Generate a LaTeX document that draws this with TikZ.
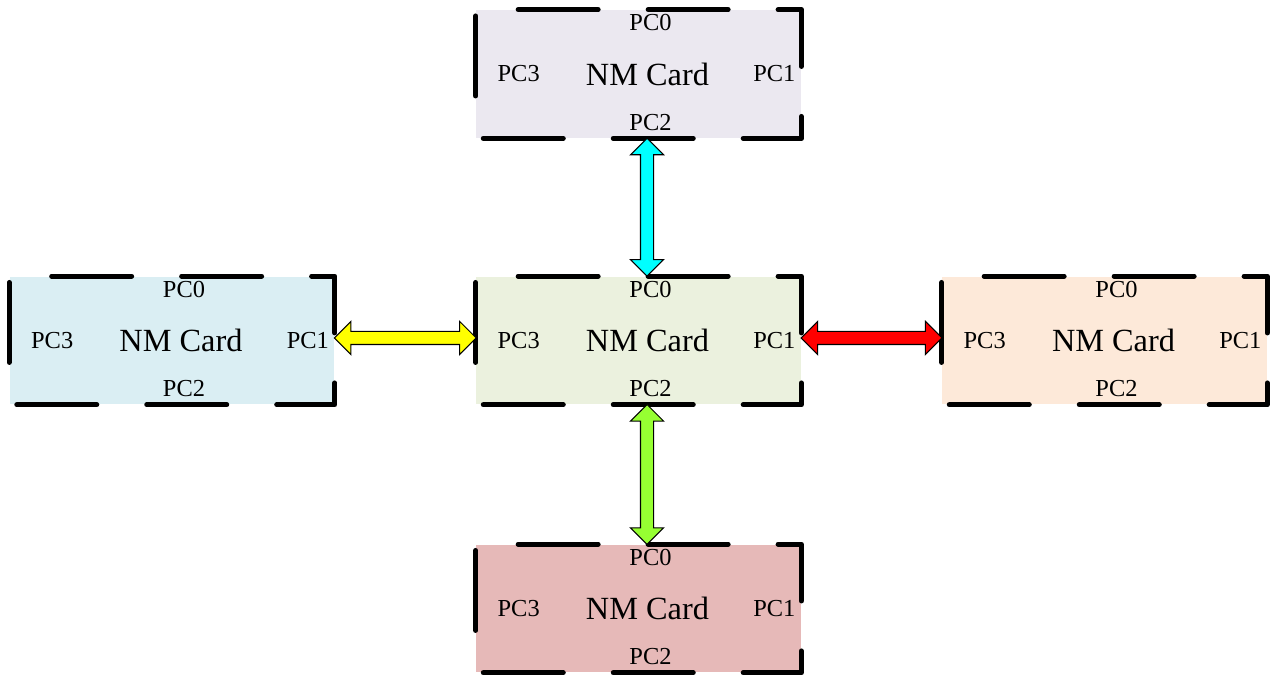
\documentclass[tikz,border=0pt]{standalone}
\usepackage{fontspec}
\setmainfont{Liberation Serif}
\usepackage{tikz}
\usetikzlibrary{calc,shapes.arrows}

\definecolor{toptint}{RGB}{235,232,240}
\definecolor{lefttint}{RGB}{218,238,243}
\definecolor{midtint}{RGB}{235,241,222}
\definecolor{righttint}{RGB}{253,233,217}
\definecolor{bottomtint}{RGB}{230,185,184}
\definecolor{aqualink}{RGB}{0,255,255}
\definecolor{limelink}{RGB}{150,255,50}
\definecolor{yellowlink}{RGB}{255,255,0}
\definecolor{redlink}{RGB}{255,0,0}

% four ports, the name and the dashed frame of one card
\newcommand{\cardports}[1]{%
    \node[port] (#1-pc0) at ([shift={(12,-13)}]#1.north) {PC0};
    \node[port] (#1-pc1) at ([shift={(-27,0)}]#1.east) {PC1};
    \node[port] (#1-pc2) at ([shift={(12,16)}]#1.south) {PC2};
    \node[port] (#1-pc3) at ([shift={(43,0)}]#1.west) {PC3};
    \node[cardname] (#1-name) at ([shift={(9,0)}]#1.center) {NM Card};
    \draw[border] (#1.north west) -- (#1.north east) -- (#1.south east)
        -- (#1.south west) -- cycle;
}

\begin{document}
\begin{tikzpicture}[x=0.02cm,y=0.02cm]
            \tikzstyle{card}=[rectangle,inner sep=0pt,minimum width=6.5cm,minimum height=2.56cm]
            \tikzstyle{port}=[inner sep=0pt,font=\fontsize{13.9}{16}\selectfont]
            \tikzstyle{cardname}=[inner sep=0pt,font=\fontsize{18.4}{22}\selectfont]
            \tikzstyle{border}=[line width=0.1cm,line cap=round,line join=round,
                dash pattern=on 1.6cm off 1cm,dash phase=1.75cm]
            \tikzstyle{link}=[double arrow,draw,line width=0.6pt,inner sep=0.12cm,
                double arrow head extend=0.2cm]
            \useasboundingbox (0,0) rectangle (1275,675);

            \node[card,fill=toptint] (ctop) at (638.5,601) {};
            \node[card,fill=lefttint] (cleft) at (172,334.5) {};
            \node[card,fill=midtint] (cmid) at (638.5,334.5) {};
            \node[card,fill=righttint] (cright) at (1104.5,334.5) {};
            \node[card,fill=bottomtint] (cbottom) at (638.5,66.5) {};

            \cardports{ctop}
            \cardports{cleft}
            \cardports{cmid}
            \cardports{cright}
            \cardports{cbottom}

            % links between the cards
            \node[link,fill=aqualink,rotate=90,minimum height=2.76cm]
                (topmid) at ($(ctop.south)!0.5!(cmid.north)+(8.5,0)$) {};
            \node[link,fill=limelink,rotate=90,minimum height=2.8cm]
                (midbottom) at ($(cmid.south)!0.5!(cbottom.north)+(8.5,0)$) {};
            \node[link,fill=yellowlink,minimum height=2.84cm]
                (leftmid) at ($(cleft.east)!0.5!(cmid.west)+(0,2.5)$) {};
            \node[link,fill=redlink,minimum height=2.82cm]
                (midright) at ($(cmid.east)!0.5!(cright.west)+(0,2.5)$) {};
\end{tikzpicture}
\end{document}
